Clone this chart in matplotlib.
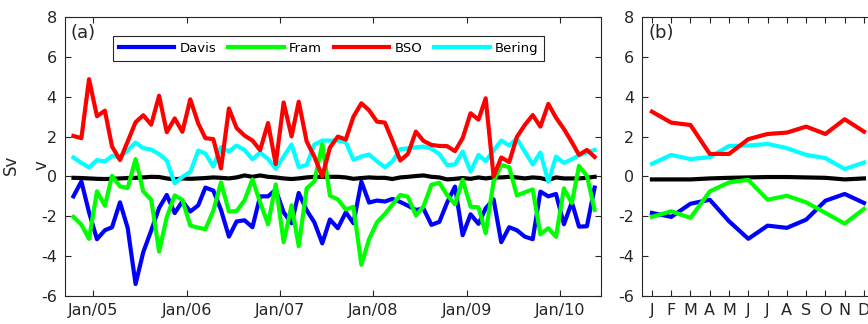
import matplotlib
matplotlib.use('Agg')
import matplotlib.pyplot as plt
import pandas as pd

# monthly transports (Sv), Oct 2004 - May 2010
dates = pd.date_range('2004-10-01', periods=68, freq='MS') + pd.Timedelta(days=14)

davis = [-1.0, -0.25, -1.8, -3.15, -2.7, -2.55, -1.3, -2.58, -5.4, -3.8,
         -2.72, -1.58, -0.93, -1.84, -1.25, -1.76, -1.45, -0.56, -0.71, -1.68,
         -3.02, -2.26, -2.2, -2.55, -1.0, -1.0, -0.67, -1.8, -2.35, -0.83,
         -1.7, -2.3, -3.36, -2.16, -2.6, -1.8, -2.35, -0.26, -1.31, -1.21,
         -1.26, -1.13, -1.28, -1.47, -1.68, -1.62, -2.43, -2.28, -1.32, -0.51,
         -2.95, -1.9, -2.38, -1.6, -1.15, -3.3, -2.55, -2.7, -3.02, -3.15,
         -0.76, -1.0, -0.88, -2.4, -1.3, -2.52, -2.5, -0.56]
fram = [-2.03, -2.42, -3.13, -0.75, -1.47, 0.03, -0.5, -0.58, 0.87, -0.75,
        -1.17, -3.77, -2.05, -0.95, -1.18, -2.47, -2.57, -2.65, -1.72, -0.3,
        -1.76, -1.74, -1.2, -0.15, -1.3, -2.4, -0.4, -3.3, -1.45, -3.5,
        -0.6, -0.26, 1.62, -0.97, -1.15, -1.66, -1.53, -4.43, -3.15, -2.3,
        -1.88, -1.42, -0.93, -1.02, -1.95, -1.5, -0.42, -0.32, -0.93, -1.4,
        -0.17, -1.52, -1.55, -2.85, -0.25, 0.57, 0.46, -0.95, -0.8, -0.65,
        -2.9, -2.6, -3.03, -0.6, -1.34, 0.53, 0.03, -1.68]
bso = [2.03, 1.92, 4.88, 3.02, 3.3, 1.5, 0.82, 1.75, 2.72, 3.07,
       2.6, 4.05, 2.22, 2.91, 2.24, 3.87, 2.66, 1.92, 1.87, 0.4,
       3.41, 2.43, 2.05, 1.8, 1.32, 2.68, 0.62, 3.71, 2.01, 3.75,
       1.75, 1.0, 0.0, 1.45, 2.0, 1.85, 3.0, 3.67, 3.32, 2.75,
       2.7, 1.8, 0.8, 1.13, 2.25, 1.78, 1.58, 1.53, 1.52, 1.27,
       1.92, 3.17, 2.85, 3.92, 0.0, 0.95, 0.72, 1.98, 2.58, 3.08,
       2.5, 3.64, 2.95, 2.38, 1.72, 1.08, 1.33, 0.98]
bering = [0.95, 0.68, 0.45, 0.82, 0.75, 1.03, 0.96, 1.3, 1.7, 1.42,
          1.35, 1.12, 0.8, -0.35, -0.02, 0.22, 1.3, 1.15, 0.5, 1.47,
          1.25, 1.55, 1.33, 0.86, 1.2, 0.88, 0.38, 1.0, 1.6, 0.47,
          0.57, 1.6, 1.8, 1.8, 1.8, 1.72, 0.84, 1.0, 1.1, 0.76,
          0.46, 0.75, 1.37, 1.41, 1.46, 1.5, 1.39, 1.12, 0.57, 0.6,
          1.25, 0.24, 1.08, 0.77, 1.3, 1.8, 1.55, 1.9, 1.25, 0.6,
          1.2, -0.27, 1.0, 0.68, 0.86, 1.06, 1.2, 1.33]
total = [-0.07, -0.08, -0.1, -0.12, -0.13, -0.12, -0.1, -0.08, -0.07, -0.05,
         -0.02, -0.03, -0.1, -0.15, -0.1, -0.12, -0.1, -0.08, -0.05, -0.07,
         -0.1, -0.05, 0.05, -0.02, 0.05, -0.02, -0.05, -0.1, -0.13, -0.1,
         -0.05, -0.02, -0.02, -0.02, -0.02, -0.05, -0.12, -0.08, -0.05, -0.07,
         -0.07, -0.13, -0.05, -0.02, 0.02, 0.05, -0.02, -0.05, -0.15, -0.12,
         -0.08, -0.12, -0.05, -0.1, -0.05, -0.05, -0.02, -0.05, -0.1, -0.05,
         -0.08, -0.18, -0.05, -0.1, -0.1, -0.1, -0.07, -0.02]

# seasonal cycle
months = list(range(1, 13))
month_labels = ['J', 'F', 'M', 'A', 'M', 'J', 'J', 'A', 'S', 'O', 'N', 'D']
davis_clim = [-1.83, -2.03, -1.37, -1.17, -2.25, -3.13, -2.47, -2.58, -2.17, -1.22, -0.88, -1.33]
fram_clim = [-2.03, -1.75, -2.08, -0.75, -0.3, -0.17, -1.17, -0.97, -1.3, -1.83, -2.37, -1.63]
bso_clim = [3.25, 2.7, 2.58, 1.13, 1.13, 1.87, 2.13, 2.2, 2.5, 2.13, 2.87, 2.25]
bering_clim = [0.63, 1.08, 0.87, 0.97, 1.53, 1.55, 1.63, 1.42, 1.08, 0.92, 0.37, 0.7]
total_clim = [-0.15, -0.15, -0.15, -0.1, -0.07, -0.05, -0.03, -0.03, -0.05, -0.07, -0.15, -0.1]

year_ticks = pd.to_datetime(['2005-01-01', '2006-01-01', '2007-01-01',
                             '2008-01-01', '2009-01-01', '2010-01-01'])
year_labels = ['Jan/05', 'Jan/06', 'Jan/07', 'Jan/08', 'Jan/09', 'Jan/10']

plt.rcParams['font.family'] = 'DejaVu Sans'
plt.rcParams['axes.unicode_minus'] = False

spine_col = '#262626'
lw = 3.0
cols = {'Davis': '#0000ff', 'Fram': '#00ff00', 'BSO': '#ff0000', 'Bering': '#00ffff'}

fig = plt.figure(figsize=(8.68, 3.24), dpi=100)
ax1 = fig.add_axes([65 / 868, 1 - 296 / 324, 536 / 868, 279 / 324])
ax2 = fig.add_axes([642.3 / 868, 1 - 296 / 324, 231.3 / 868, 279 / 324])


def style(ax):
    for s in ax.spines.values():
        s.set_color(spine_col)
        s.set_linewidth(0.8)
    ax.tick_params(direction='in', length=4, width=0.8, color=spine_col,
                   labelsize=11.5, labelcolor=spine_col, pad=6,
                   top=True, right=True)
    ax.set_ylim(-6, 8)
    ax.set_yticks(range(-6, 9, 2))


# left panel: time series
ax1.plot(dates, total, color='black', lw=lw, zorder=2)
h_d, = ax1.plot(dates, davis, color=cols['Davis'], lw=lw, zorder=3)
h_b, = ax1.plot(dates, bering, color=cols['Bering'], lw=lw, zorder=4)
h_f, = ax1.plot(dates, fram, color=cols['Fram'], lw=lw, zorder=5)
h_s, = ax1.plot(dates, bso, color=cols['BSO'], lw=lw, zorder=6)
style(ax1)
ax1.set_xlim(pd.Timestamp('2004-09-12'), pd.Timestamp('2010-06-09'))
ax1.set_xticks(year_ticks)
ax1.set_xticklabels(year_labels)
ax1.tick_params(axis='x', pad=5)
ax1.set_ylabel('Sv', fontsize=12, color=spine_col)
ax1.yaxis.set_label_coords(-0.085, 0.47)
ax1.text(-0.043, 0.47, 'v', transform=ax1.transAxes, rotation=90,
         fontsize=12, color=spine_col, ha='center', va='center')
ax1.text(0.01, 0.975, '(a)', transform=ax1.transAxes, fontsize=13,
         color=spine_col, ha='left', va='top')
leg = ax1.legend([h_d, h_f, h_s, h_b], ['Davis', 'Fram', 'BSO', 'Bering'],
                 loc='upper left', bbox_to_anchor=(0.0896, 0.932), ncol=4,
                 fontsize=9.5, handlelength=4.2, handletextpad=0.4,
                 columnspacing=0.9, borderaxespad=0, borderpad=0.45,
                 fancybox=False, framealpha=1)
leg.get_frame().set_edgecolor(spine_col)
leg.get_frame().set_linewidth(0.8)

# right panel: seasonal cycle
ax2.plot(months, total_clim, color='black', lw=lw, zorder=2)
ax2.plot(months, davis_clim, color=cols['Davis'], lw=lw, zorder=3)
ax2.plot(months, bering_clim, color=cols['Bering'], lw=lw, zorder=4)
ax2.plot(months, fram_clim, color=cols['Fram'], lw=lw, zorder=5)
ax2.plot(months, bso_clim, color=cols['BSO'], lw=lw, zorder=6)
style(ax2)
ax2.set_xlim(0.5, 12.5)
ax2.set_xticks(months)
ax2.set_xticklabels(month_labels)
ax2.tick_params(axis='x', pad=5)
ax2.text(0.025, 0.975, '(b)', transform=ax2.transAxes, fontsize=13,
         color=spine_col, ha='left', va='top')

fig.savefig('out.png', dpi=100)
